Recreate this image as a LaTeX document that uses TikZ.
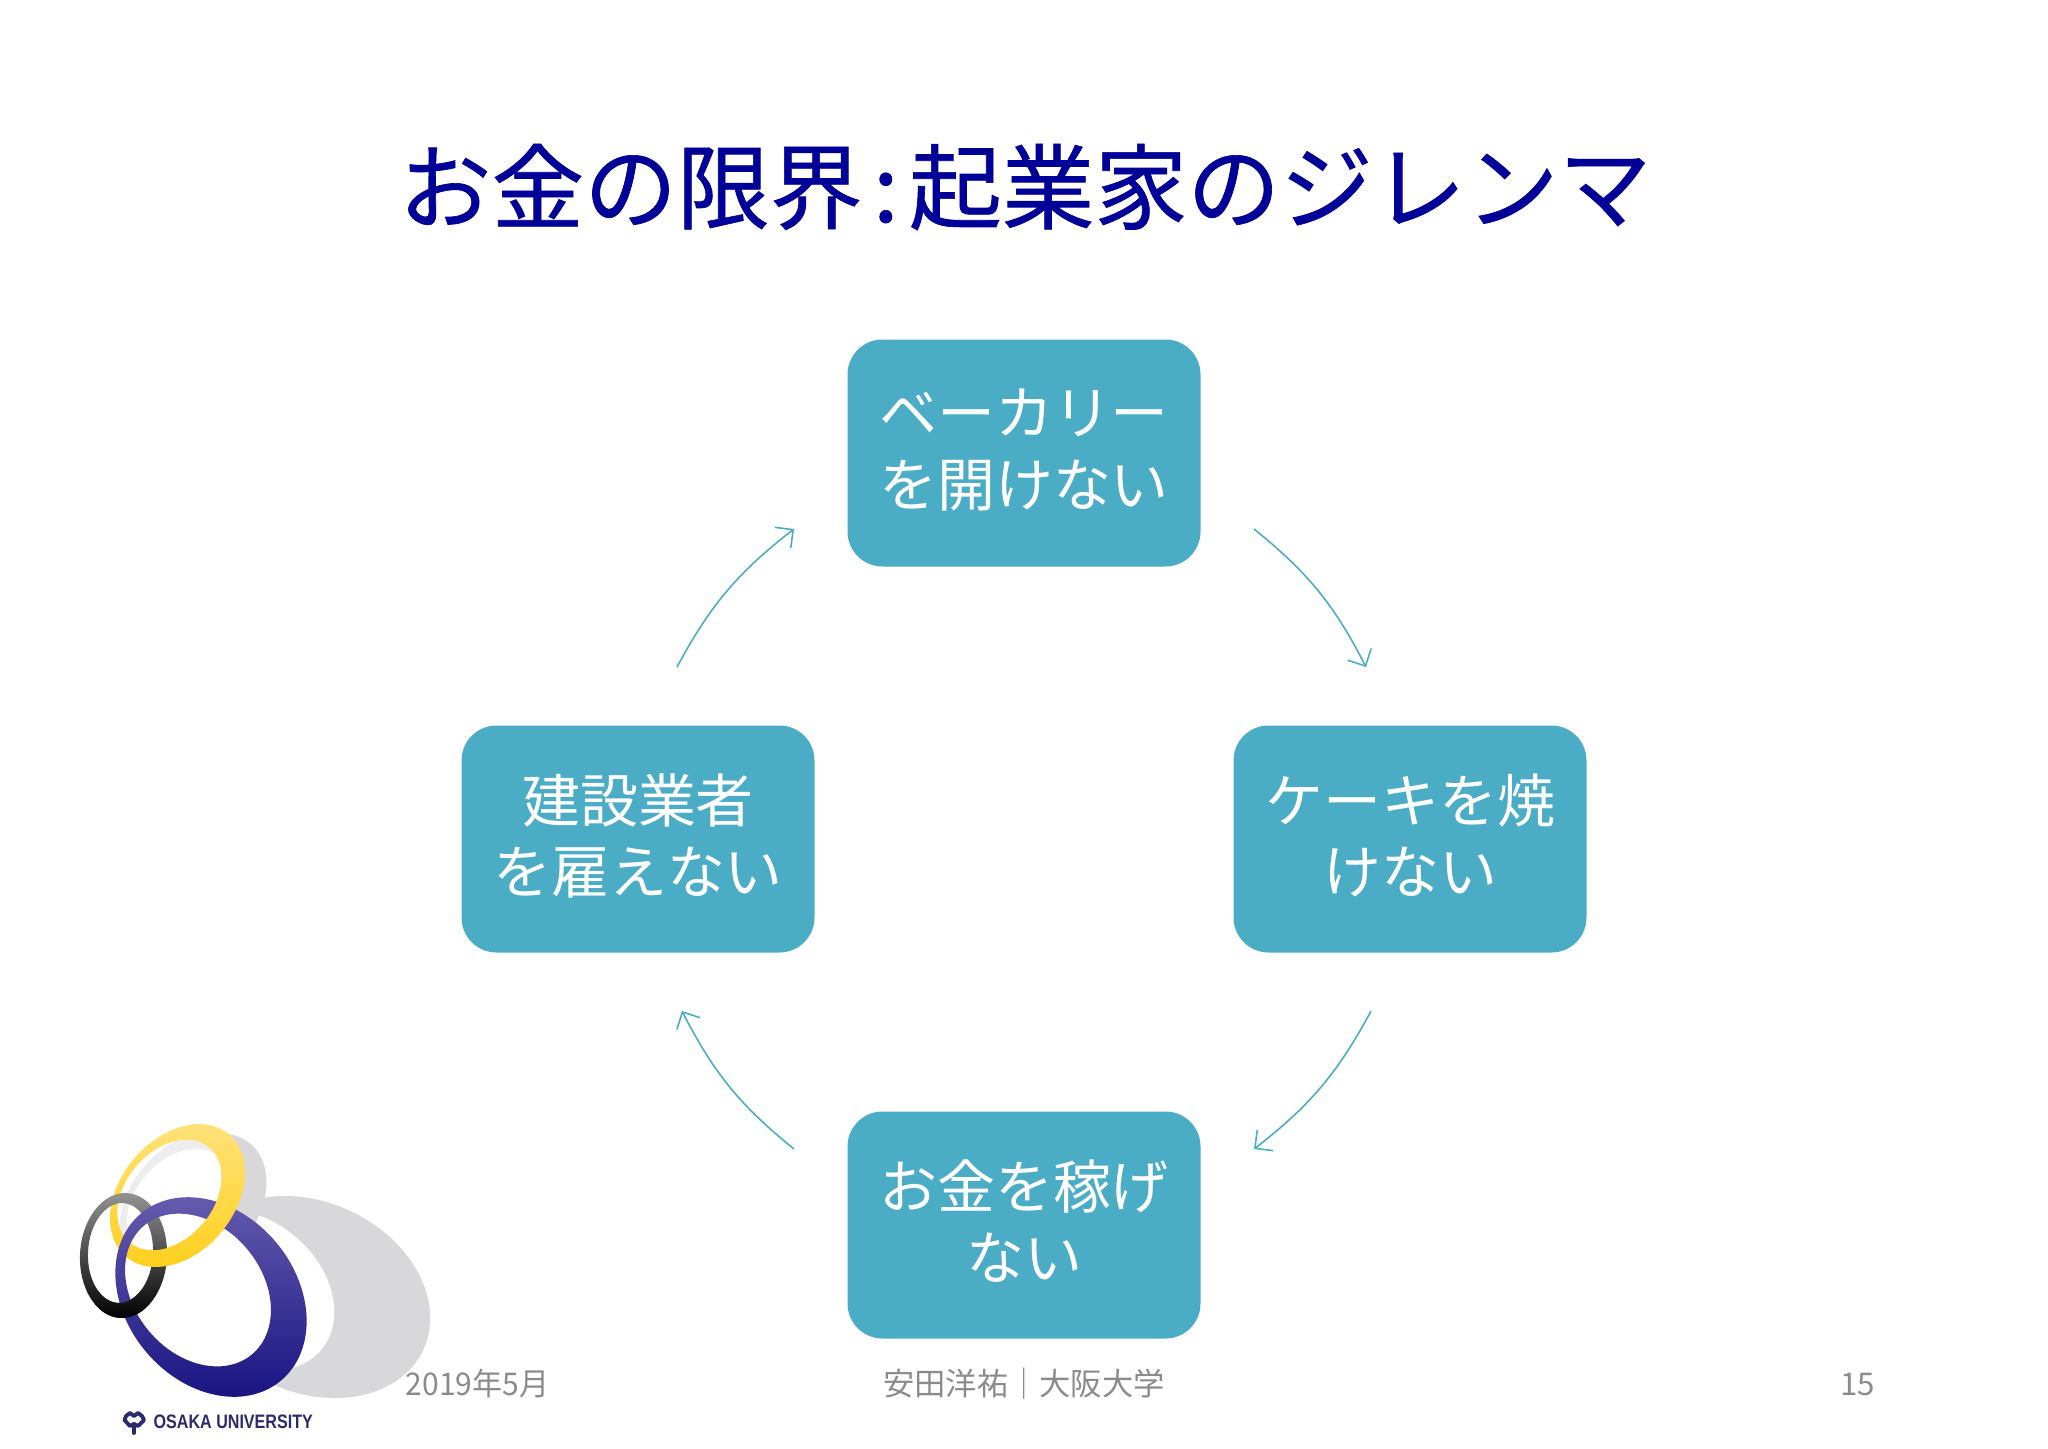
\documentclass[tikz,border=0pt]{standalone}
\usepackage{fontspec}
\usetikzlibrary{arrows.meta}
\setmainfont{Noto Sans CJK JP}
\newfontfamily\titlefont[FakeBold=0.7]{Noto Sans CJK JP}
\newfontfamily\logofont[FakeStretch=0.825]{Liberation Sans Bold}
\definecolor{titleblue}{RGB}{0,0,153}
\definecolor{cyclefill}{RGB}{75,172,198}
\definecolor{footgray}{RGB}{139,139,139}
\definecolor{shadowgray}{RGB}{216,216,218}
\definecolor{logonavy}{RGB}{44,42,110}
\definecolor{yellowtop}{RGB}{255,226,120}
\definecolor{yellowlow}{RGB}{255,208,30}
\definecolor{bluetop}{RGB}{106,95,176}
\definecolor{bluelow}{RGB}{20,16,127}
\newcommand{\ringyellow}{(177.5,-1195.5) ellipse [x radius=80,y radius=57,rotate=50] (169.5,-1195) ellipse [x radius=62,y radius=44,rotate=50]}
\newcommand{\ringgrey}{(123.5,-1255.5) ellipse [x radius=43.5,y radius=62.5,rotate=-3] (120.5,-1253) ellipse [x radius=32.5,y radius=50,rotate=-3]}
\newcommand{\ringblue}{(211,-1297) ellipse [x radius=109,y radius=85,rotate=-50] (198,-1290) ellipse [x radius=84,y radius=64,rotate=-50]}
\tikzset{
  cyclebox/.style={fill=cyclefill,rounded corners=0.35cm,minimum width=3.53cm,minimum height=2.27cm,inner sep=0pt,text=white,align=center,text depth=3pt,font=\fontsize{16.5}{20.3}\selectfont},
  cyclearrow/.style={draw=cyclefill,line width=0.45pt,-{Straight Barb[length=1.3mm,width=2.6mm]}},
  foottext/.style={text=footgray,inner sep=0pt,font=\fontsize{8.9}{10}\selectfont},
  fillyellow/.style={even odd rule,top color=yellowtop,bottom color=yellowlow},
  fillgrey/.style={even odd rule,top color=black!42,bottom color=black},
  fillblue/.style={even odd rule,top color=bluetop,bottom color=bluelow}
}
\begin{document}
\begin{tikzpicture}[x=0.1mm,y=0.1mm]
\useasboundingbox (0,0) rectangle (2048,-1448);
% logo shadows
\fill [shadowgray] (310,-1297) ellipse [x radius=125,y radius=95,rotate=-25];
\fill [white] (250,-1290) ellipse [x radius=93,y radius=70,rotate=-40];
\fill [shadowgray] (199,-1205) ellipse [x radius=80,y radius=57,rotate=50];
\fill [white] (169.5,-1195) ellipse [x radius=62,y radius=44,rotate=50];
\fill [white] (198,-1290) ellipse [x radius=84,y radius=64,rotate=-50];
\begin{scope}
\clip (169.5,-1195) ellipse [x radius=62,y radius=44,rotate=50];
\fill [black!7,even odd rule] (187,-1204) ellipse [x radius=80,y radius=57,rotate=50] (179,-1204) ellipse [x radius=62,y radius=44,rotate=50];
\end{scope}
% logo rings
\shade [fillyellow] \ringyellow;
\shade [fillgrey] \ringgrey;
\shade [fillblue] \ringblue;
\begin{scope}
\clip (142,-1235) rectangle (255,-1275) (195,-1235) rectangle (255,-1170);
\shade [fillyellow] \ringyellow;
\end{scope}
\begin{scope}
\clip (95,-1290) rectangle (150,-1325);
\shade [fillgrey] \ringgrey;
\end{scope}
% logo symbol and name
\draw [logonavy,line width=1.1pt,line join=round,line cap=round] (134,-1416) -- (130,-1413) -- (126,-1416) -- (124.5,-1420) -- (130,-1426) -- (134,-1424) -- (138,-1426) -- (144,-1420) -- (142,-1416) -- (138,-1413) -- cycle;
\draw [logonavy,line width=1.1pt,line cap=round] (134,-1424) -- (134,-1433);
\node (logoname) at (153,-1422) [anchor=west,inner sep=0pt,text=logonavy,font=\logofont\fontsize{5.55}{6}\selectfont] {OSAKA UNIVERSITY};
% title and footer
\node (slidetitle) at (1025,-187) [inner sep=0pt,text=titleblue,font=\titlefont\fontsize{26.4}{30}\selectfont] {お金の限界\makebox[0.5em]{:}起業家のジレンマ};
\node (footdate) at (405,-1395) [anchor=base west,foottext,xscale=0.96,transform shape] {2019年5月};
\node (footname) at (1024,-1395) [anchor=base,foottext] {安田洋祐｜大阪大学};
\node (footpage) at (1876,-1395) [anchor=base east,foottext] {15};
% cycle
\node (bakery) at (1024,-453) [cyclebox] {ベーカリー\\を開けない};
\node (cake) at (1410,-839) [cyclebox] {ケーキを焼\\けない};
\node (money) at (1024,-1225) [cyclebox] {お金を稼げ\\ない};
\node (builder) at (638,-839) [cyclebox] {建設業者\\を雇えない};
\coordinate (bakeryout) at ([shift={(230,-76)}]bakery.center);
\coordinate (cakein) at ([shift={(-44,172)}]cake.center);
\coordinate (cakeout) at ([shift={(-39,-172)}]cake.center);
\coordinate (moneyin) at ([shift={(230,76)}]money.center);
\coordinate (moneyout) at ([shift={(-230,76)}]money.center);
\coordinate (builderin) at ([shift={(44,-172)}]builder.center);
\coordinate (builderout) at ([shift={(39,172)}]builder.center);
\coordinate (bakeryin) at ([shift={(-230,-76)}]bakery.center);
\draw [cyclearrow] (bakeryout) to [bend left=12] (cakein);
\draw [cyclearrow] (cakeout) to [bend left=12] (moneyin);
\draw [cyclearrow] (moneyout) to [bend left=12] (builderin);
\draw [cyclearrow] (builderout) to [bend left=12] (bakeryin);
\end{tikzpicture}
\end{document}
